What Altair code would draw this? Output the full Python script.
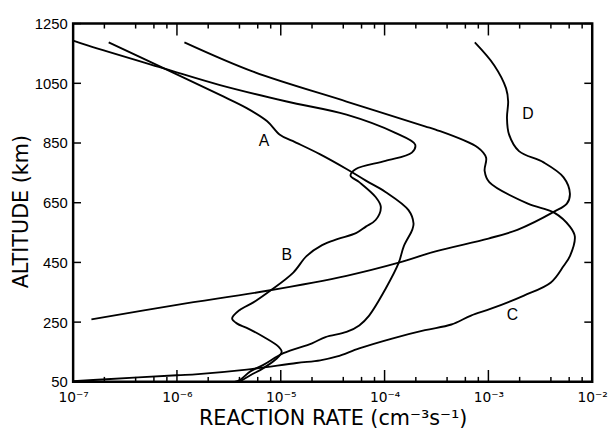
import altair as alt
import pandas as pd

FONT = "Liberation Sans"
SUPFONT = "DejaVu Sans"

# ---- curve data (reaction rate in cm^-3 s^-1, altitude in km) ----
rate_A = [2.2e-7, 7.6e-7, 2.6e-6, 4.7e-6, 7.4e-6, 9.8e-6, 1.3e-5, 2.4e-5, 4.3e-5, 6.6e-5,
          1.02e-4, 1.7e-4, 1.9e-4, 1.85e-4, 1.53e-4, 1.37e-4, 1.02e-4, 7.1e-5, 5.7e-5, 4.3e-5,
          2.7e-5, 2.0e-5, 1.06e-5, 6.8e-6, 5.1e-6, 4.1e-6, 3.6e-6]
alt_A = [1187, 1099, 1011, 967, 923, 878, 857, 812, 763, 724,
         686, 625, 581, 560, 504, 449, 361, 272, 239, 217,
         200, 179, 146, 107, 85, 58, 50]

rate_B = [1.0e-7, 1.4e-7, 7.6e-7, 2.6e-6, 1.14e-5, 4.3e-5, 1.27e-4, 1.97e-4, 1.83e-4, 1.02e-4,
          5.3e-5, 4.7e-5, 5.7e-5, 8.2e-5, 9.2e-5, 8.2e-5, 6.6e-5, 5.3e-5, 3.5e-5, 2.5e-5,
          1.77e-5, 1.32e-5, 7.9e-6, 5.5e-6, 4.0e-6, 3.4e-6, 3.8e-6, 4.7e-6, 6.8e-6, 9.5e-6,
          1.02e-5, 9.2e-6, 6.8e-6, 5.1e-6, 4.0e-6]
alt_B = [1193, 1176, 1099, 1044, 989, 945, 884, 845, 818, 790,
         763, 741, 719, 669, 636, 592, 570, 548, 528, 508,
         471, 416, 355, 317, 290, 262, 245, 231, 201, 168,
         151, 129, 96, 72, 50]

rate_C = [1.18e-6, 5.5e-6, 4.3e-5, 2.45e-4, 3.1e-4, 7.9e-4, 9.5e-4, 9.2e-4, 1.02e-3, 2.4e-3,
          4.3e-3, 6.1e-3, 6.8e-3, 6.1e-3, 5.3e-3, 4.0e-3, 2.2e-3, 1.06e-3, 6.8e-4, 4.4e-4,
          2.45e-4, 1.18e-4, 5.7e-5, 3.5e-5, 2.4e-5, 1.42e-5, 4.7e-6, 1.6e-6, 1.0e-6, 1.9e-7,
          1.0e-7]
alt_C = [1187, 1088, 989, 906, 895, 835, 801, 757, 719, 647,
         617, 570, 537, 471, 438, 383, 339, 295, 272, 242,
         223, 195, 162, 135, 122, 113, 91, 76, 72, 58,
         52]

rate_D = [7.4e-4, 1.14e-3, 1.48e-3, 1.55e-3, 1.51e-3, 1.58e-3, 1.97e-3, 3.4e-3, 5.3e-3, 6.1e-3,
          5.7e-3, 4.3e-3, 1.9e-3, 1.0e-3, 3.1e-4, 1.37e-4, 4.3e-5, 7.4e-6, 1.0e-6, 1.5e-7]
alt_D = [1187, 1110, 1033, 989, 934, 879, 823, 785, 735, 680,
         647, 620, 559, 530, 487, 449, 405, 355, 308, 259]

curve_names = ["A", "B", "C", "D"]
label_rate = [6.9e-6, 1.14e-5, 1.7e-3, 2.4e-3]
label_alt = [858, 473, 272, 948]

# ---- axis ticks ----
x_major = [1e-7, 1e-6, 1e-5, 1e-4, 1e-3, 1e-2]
x_major_labels = ["10⁻⁷", "10⁻⁶", "10⁻⁵", "10⁻⁴", "10⁻³", "10⁻²"]
x_minor_mult = [2, 4, 6, 8]
y_major = [50, 250, 450, 650, 850, 1050, 1250]

W, H = 526, 363

rows = []
for name, rates, alts in zip(curve_names, [rate_A, rate_B, rate_C, rate_D],
                             [alt_A, alt_B, alt_C, alt_D]):
    for i, (r, a) in enumerate(zip(rates, alts)):
        rows.append({"curve": name, "i": i, "rate": r, "alt": a})
df = pd.DataFrame(rows)

lab_df = pd.DataFrame({"name": curve_names, "rate": label_rate, "alt": label_alt})

x_minor = [d * m for d in x_major[:-1] for m in x_minor_mult]
major_df = pd.DataFrame({"v": x_major})
minor_df = pd.DataFrame({"v": x_minor})
ytick_df = pd.DataFrame({"v": y_major})

x_scale = alt.Scale(type="log", domain=[1e-7, 1e-2], nice=False)
y_scale = alt.Scale(domain=[50, 1250], nice=False, zero=False)

label_expr = "[" + ",".join("'" + s + "'" for s in x_major_labels) + "][round(log(datum.value)/LN10)+7]"

x_axis = alt.Axis(values=x_major, labelExpr=label_expr, ticks=False, tickSize=0, domain=False,
                  grid=False, labelFont=SUPFONT, labelFontSize=14, labelColor="black",
                  labelPadding=9, labelFlush=False,
                  title="REACTION RATE (cm⁻³s⁻¹)", titleFont=SUPFONT, titleFontSize=21,
                  titleFontWeight="normal", titleColor="black",
                  titleBaseline="alphabetic", titleY=43)
y_axis = alt.Axis(values=y_major, format="d", ticks=False, tickSize=0, domain=False, grid=False,
                  labelFont=FONT, labelFontSize=15, labelColor="black", labelPadding=6,
                  labelFlush=False,
                  title="ALTITUDE (km)", titleFont=SUPFONT, titleFontSize=21,
                  titleFontWeight="normal", titleColor="black", titleX=-42, titleY=190)

lines = alt.Chart(df).mark_line(color="black", strokeWidth=1.9, interpolate="catmull-rom").encode(
    x=alt.X("rate:Q", scale=x_scale, axis=x_axis),
    y=alt.Y("alt:Q", scale=y_scale, axis=y_axis),
    detail="curve:N",
    order=alt.Order("i:Q"),
)

labels = alt.Chart(lab_df).mark_text(font=FONT, fontSize=16, color="black").encode(
    x=alt.X("rate:Q", scale=x_scale),
    y=alt.Y("alt:Q", scale=y_scale),
    text="name:N",
)

tick_color = "black"
top_major = alt.Chart(major_df).mark_rule(color=tick_color, strokeWidth=1.5).encode(
    x=alt.X("v:Q", scale=x_scale), y=alt.value(0), y2=alt.value(12))
bot_major = alt.Chart(major_df).mark_rule(color=tick_color, strokeWidth=1.5).encode(
    x=alt.X("v:Q", scale=x_scale), y=alt.value(H), y2=alt.value(H - 12))
top_minor = alt.Chart(minor_df).mark_rule(color=tick_color, strokeWidth=1.5).encode(
    x=alt.X("v:Q", scale=x_scale), y=alt.value(0), y2=alt.value(5))
bot_minor = alt.Chart(minor_df).mark_rule(color=tick_color, strokeWidth=1.5).encode(
    x=alt.X("v:Q", scale=x_scale), y=alt.value(H), y2=alt.value(H - 5))
left_ticks = alt.Chart(ytick_df).mark_rule(color=tick_color, strokeWidth=1.5).encode(
    y=alt.Y("v:Q", scale=y_scale), x=alt.value(0), x2=alt.value(8))
right_ticks = alt.Chart(ytick_df).mark_rule(color=tick_color, strokeWidth=1.5).encode(
    y=alt.Y("v:Q", scale=y_scale), x=alt.value(W), x2=alt.value(W - 8))

chart = alt.layer(lines, labels, top_major, bot_major, top_minor, bot_minor,
                  left_ticks, right_ticks).properties(
    width=W, height=H,
    autosize=alt.AutoSizeParams(type="none"),
    padding={"left": 66, "top": 13, "right": 16, "bottom": 46},
    background="white",
).configure_view(stroke="black", strokeWidth=2.5)

chart.save("out.html", embed_options={"renderer": "svg", "actions": False})
